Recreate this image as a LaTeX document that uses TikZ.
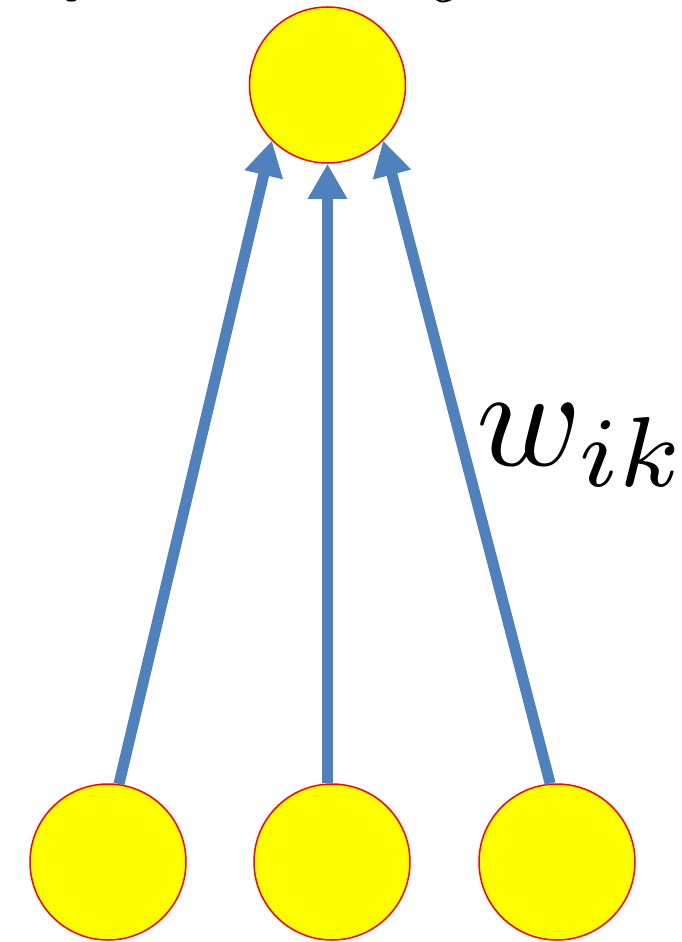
\documentclass[tikz,border=0pt]{standalone}
\usetikzlibrary{arrows.meta}
\definecolor{nodeyellow}{RGB}{255,255,0}
\definecolor{nodered}{RGB}{255,0,0}
\definecolor{arrowblue}{RGB}{79,129,189}
\tikzset{
  neuron/.style={circle, draw=nodered, line width=1.5pt, fill=nodeyellow, minimum size=156pt, inner sep=0pt},
  weight/.style={draw=arrowblue, line width=11pt, -{Triangle[length=35pt,width=37pt]}},
}
\begin{document}
\begin{tikzpicture}[x=1pt,y=-1pt]
\useasboundingbox (0,0) rectangle (682,942);
\begin{scope}
\clip (0,0) rectangle (682,942);
\node[anchor=base west, inner sep=0pt, scale=8] (fragp) at (60,-13) {\bfseries\sffamily p};
\node[anchor=base west, inner sep=0pt, scale=9] (fragy) at (428,-15) {$y$};
\end{scope}
\node[neuron] (top) at (327.5,85) {};
\node[neuron] (b1) at (108,862) {};
\node[neuron] (b2) at (332,862) {};
\node[neuron] (b3) at (557,862) {};
\draw[weight] (b1.82) -- (top.225);
\draw[weight] (b2.north -| top.south) -- (top.south);
\draw[weight] (b3.95) -- (top.315);
\node[anchor=base west, inner sep=0pt, scale=14.2] (lbl) at (474,465) {$w_{ik}$};
\end{tikzpicture}
\end{document}
